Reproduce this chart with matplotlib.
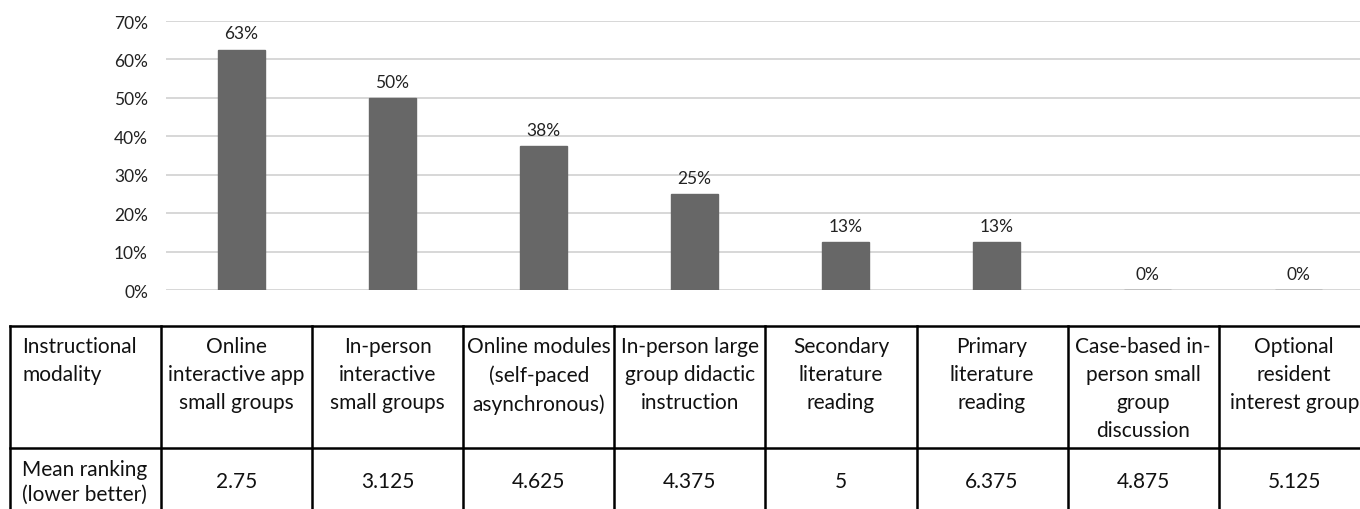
import matplotlib
matplotlib.use('Agg')
import matplotlib.pyplot as plt

plt.rcParams['font.family'] = ['Lato', 'DejaVu Sans']

# datos
modalidades = [
    'Online\ninteractive app\nsmall groups',
    'In-person\ninteractive\nsmall groups',
    'Online modules\n(self-paced\nasynchronous)',
    'In-person large\ngroup didactic\ninstruction',
    'Secondary\nliterature\nreading',
    'Primary\nliterature\nreading',
    'Case-based in-\nperson small\ngroup\ndiscussion',
    'Optional\nresident\ninterest group',
]
porcentaje = [0.625, 0.50, 0.375, 0.25, 0.125, 0.125, 0.0, 0.0]
ranking_medio = [2.75, 3.125, 4.625, 4.375, 5, 6.375, 4.875, 5.125]
y_ticks = [0, 0.1, 0.2, 0.3, 0.4, 0.5, 0.6, 0.7]

W, H = 1360, 510
fig = plt.figure(figsize=(W / 100, H / 100), dpi=100)
fig.patch.set_facecolor('white')

# grafico de barras (coordenadas en pixeles -> fracciones)
ax_left, ax_w = 166, 151 * 8
ax_bot, ax_top = 291, 22
ax = fig.add_axes([ax_left / W, (H - ax_bot) / H, ax_w / W, (ax_bot - ax_top) / H])
x = list(range(len(porcentaje)))
ax.bar(x, porcentaje, width=0.31, color='#676767', edgecolor='#676767',
       linewidth=1, zorder=3)
for xi, v in zip(x, porcentaje):
    ax.annotate(f'{int(v * 100 + 0.5)}%', (xi, v), xytext=(0, 6),
                textcoords='offset points', ha='center', va='bottom',
                fontsize=12.5, color='#222222')
ax.set_xlim(-0.5, len(porcentaje) - 0.5)
ax.set_ylim(0, 0.7)
ax.set_yticks(y_ticks)
ax.set_yticklabels([f'{int(round(t * 100))}%' for t in y_ticks], fontsize=12.5,
                   color='#222222')
ax.set_xticks([])
ax.tick_params(axis='y', length=0, pad=13)
ax.grid(axis='y', color='#d4d4d4', linewidth=1.3, zorder=0)
for s in ax.spines.values():
    s.set_visible(False)

# tabla dibujada a mano
tab = fig.add_axes([0, 0, 1, 1])
tab.set_xlim(0, W)
tab.set_ylim(H, 0)
tab.axis('off')

col_edges = [10] + [161 + 151.1 * i for i in range(9)]
row_edges = [327, 449, 516]
lw = 1.8
for yy in row_edges:
    tab.plot([col_edges[0], col_edges[-1]], [yy, yy], color='black', lw=lw,
             clip_on=False, solid_capstyle='projecting')
for xx in col_edges:
    tab.plot([xx, xx], [row_edges[0], row_edges[-1]], color='black', lw=lw,
             clip_on=False, solid_capstyle='projecting')

fs_tab = 15
ls_tab = 1.5
tab.text(col_edges[0] + 12, 337, 'Instructional\nmodality', ha='left', va='top',
         fontsize=fs_tab, linespacing=ls_tab, color='#111111')
tab.text(col_edges[0] + 12, 482, 'Mean ranking\n(lower better)', ha='left',
         va='center', fontsize=fs_tab, linespacing=1.3, color='#111111')
for i, (nombre, r) in enumerate(zip(modalidades, ranking_medio)):
    cx = (col_edges[i + 1] + col_edges[i + 2]) / 2
    tab.text(cx, 337, nombre, ha='center', va='top', fontsize=fs_tab,
             linespacing=ls_tab, color='#111111', multialignment='center')
    tab.text(cx, 482, f'{r:g}', ha='center', va='center', fontsize=fs_tab,
             color='#111111')

fig.savefig('out.png', dpi=100, facecolor='white')
